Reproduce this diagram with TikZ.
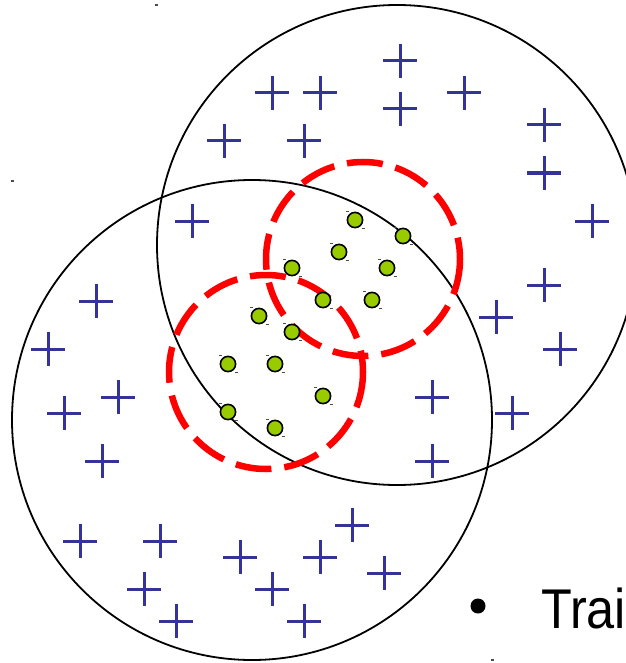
\documentclass[tikz,border=0pt]{standalone}
\usepackage{fontspec}
\setmainfont{Liberation Sans}
\definecolor{plusblue}{HTML}{333399}
\definecolor{dotgreen}{HTML}{99CC00}
\definecolor{dashred}{HTML}{FF0000}
\tikzset{
  bigcircle/.style={draw=black, line width=1.8pt},
  redcircle/.style={draw=dashred, line width=6.5pt, dash pattern=on 36pt off 13pt},
  plusmark/.style={draw=plusblue, line width=3pt},
  greendot/.style={draw=black, line width=1.6pt, fill=dotgreen},
  handle/.style={fill=black!70, draw=none},
}
\begin{document}
\begin{tikzpicture}[x=1pt,y=-1pt]
\useasboundingbox (0,0) rectangle (625,663);
% big circles
\draw[bigcircle] (397,245) circle (240);
\draw[bigcircle] (252,420) circle (240);
% plus signs
\foreach \px/\py in {400/61,272/93,320/93,400/109,464/93,224/141,304/141,
  544/125,544/173,592/221,544/285,496/317,560/349,
  96/301,48/349,118/397,64/413,102/461,
  432/397,512/413,432/461,
  80/541,160/541,240/557,320/557,352/525,384/573,144/589,272/589,176/621,304/621,
  192/221}{
  \draw[plusmark] (\px-17,\py) -- (\px+17,\py);
  \draw[plusmark] (\px,\py-17) -- (\px,\py+17);
}
% red dashed circles
\draw[redcircle] (363,259) circle (97);
\draw[redcircle] (266,372) circle (97);
% green dots
\foreach \gx/\gy in {355/220,403/236,339/252,387/268,292/268,323/300,372/300,
  259/316,292/332,228/364,275/364,323/396,228/412,275/428}{
  \fill[handle] (\gx-9,\gy-9) rectangle (\gx-6,\gy-7.8);
  \fill[handle] (\gx+7,\gy+8) rectangle (\gx+10,\gy+9.2);
  \draw[greendot] (\gx,\gy) circle (7.6);
}
% small marks
\fill[handle] (154.5,4) rectangle (157.5,6);
\fill[handle] (10.5,180) rectangle (13.5,182);
\fill[handle] (490.5,659) rectangle (493.5,661);
% text
\node[anchor=base west, inner sep=0pt, font=\fontsize{56}{60}\selectfont] (trai) at (541,628) {\scalebox{0.9}[1]{Trai}};
\fill[black] (478,606) circle (7.5);
\end{tikzpicture}
\end{document}
